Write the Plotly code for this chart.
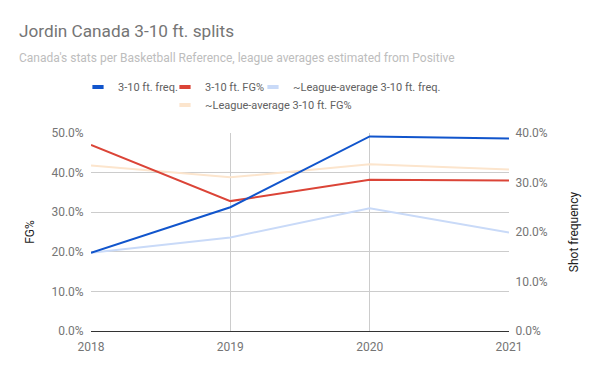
import plotly.graph_objects as go

years = [2018, 2019, 2020, 2021]
canada_freq = [0.158, 0.250, 0.393, 0.389]
canada_fg = [0.470, 0.328, 0.382, 0.380]
league_freq = [0.158, 0.189, 0.248, 0.199]
league_fg = [0.418, 0.388, 0.421, 0.408]

names = ["3-10 ft. freq.", "3-10 ft. FG%", "~League-average 3-10 ft. freq.", "~League-average 3-10 ft. FG%"]
colors = ["#1155cc", "#db4437", "#c9daf8", "#fce5cd"]

FONT = "Roboto"
W, H = 600, 371
l, r, t, b = 91, 91, 133, 40
pw, ph = W - l - r, H - t - b


def px(x):
    return (x - l) / pw


def py(y):
    return (H - b - y) / ph


fig = go.Figure()

fig.add_trace(go.Scatter(x=years, y=league_fg, mode="lines", line=dict(color=colors[3], width=2),
                         showlegend=False))
fig.add_trace(go.Scatter(x=years, y=canada_fg, mode="lines", line=dict(color=colors[1], width=2),
                         showlegend=False))
fig.add_trace(go.Scatter(x=years, y=league_freq, yaxis="y2", mode="lines", line=dict(color=colors[2], width=2),
                         showlegend=False))
fig.add_trace(go.Scatter(x=years, y=canada_freq, yaxis="y2", mode="lines", line=dict(color=colors[0], width=2),
                         showlegend=False))

# legend entries (one legend box per entry for exact placement)
text_starts = [(113, 87), (200, 87), (288, 87), (200, 105)]
legend_ids = ["legend", "legend2", "legend3", "legend4"]
for n, c, lid in zip(names, colors, legend_ids):
    fig.add_trace(go.Scatter(x=[None], y=[None], mode="markers", name=n,
                             marker=dict(symbol="line-ew", size=8, color=c, line=dict(width=4, color=c)),
                             legend=lid))

legend_cfg = {}
for lid, (tx, ty) in zip(legend_ids, text_starts):
    legend_cfg[lid] = dict(orientation="h", x=px(tx - 35), xanchor="left", y=py(ty), yanchor="middle",
                           font=dict(size=11, color="#616161", family=FONT), itemwidth=30,
                           bgcolor="rgba(0,0,0,0)")

fig.update_layout(
    width=W, height=H,
    margin=dict(l=l, r=r, t=t, b=b),
    paper_bgcolor="white", plot_bgcolor="white",
    font=dict(family=FONT, size=12, color="#757575"),
    xaxis=dict(range=[2018, 2021], tickvals=years, ticktext=[str(y) for y in years],
               showgrid=True, gridcolor="#cccccc", gridwidth=1, zeroline=False,
               showline=True, linecolor="#333333", linewidth=1.2,
               ticks="outside", ticklen=4, tickcolor="rgba(0,0,0,0)",
               tickfont=dict(size=12, color="#757575")),
    yaxis=dict(range=[0, 0.5], dtick=0.1, tickformat=".1%", showgrid=True, gridcolor="#cccccc",
               zeroline=False, ticks="outside", ticklen=4, tickcolor="rgba(0,0,0,0)",
               title=dict(text="FG%", font=dict(size=12, color="#222222"), standoff=14),
               tickfont=dict(size=12, color="#757575")),
    yaxis2=dict(range=[0, 0.4], dtick=0.1, tickformat=".1%", overlaying="y", side="right",
                showgrid=False, zeroline=False, ticks="outside", ticklen=3, tickcolor="rgba(0,0,0,0)",
                title=dict(text="Shot frequency", font=dict(size=12, color="#222222"), standoff=22),
                tickfont=dict(size=12, color="#757575")),
    **legend_cfg,
)

fig.add_annotation(text="Jordin Canada 3-10 ft. splits", x=px(17), y=py(31), xref="paper", yref="paper",
                   xanchor="left", yanchor="middle", showarrow=False,
                   font=dict(size=17.2, color="#757575", family=FONT))
fig.add_annotation(text="Canada's stats per Basketball Reference, league averages estimated from Positive",
                   x=px(17), y=py(58), xref="paper", yref="paper", xanchor="left", yanchor="middle",
                   showarrow=False, font=dict(size=12, color="#bdbdbd", family=FONT))

fig.write_html("out.html", config={"displayModeBar": False},
               post_script="document.body.style.margin='0';")
